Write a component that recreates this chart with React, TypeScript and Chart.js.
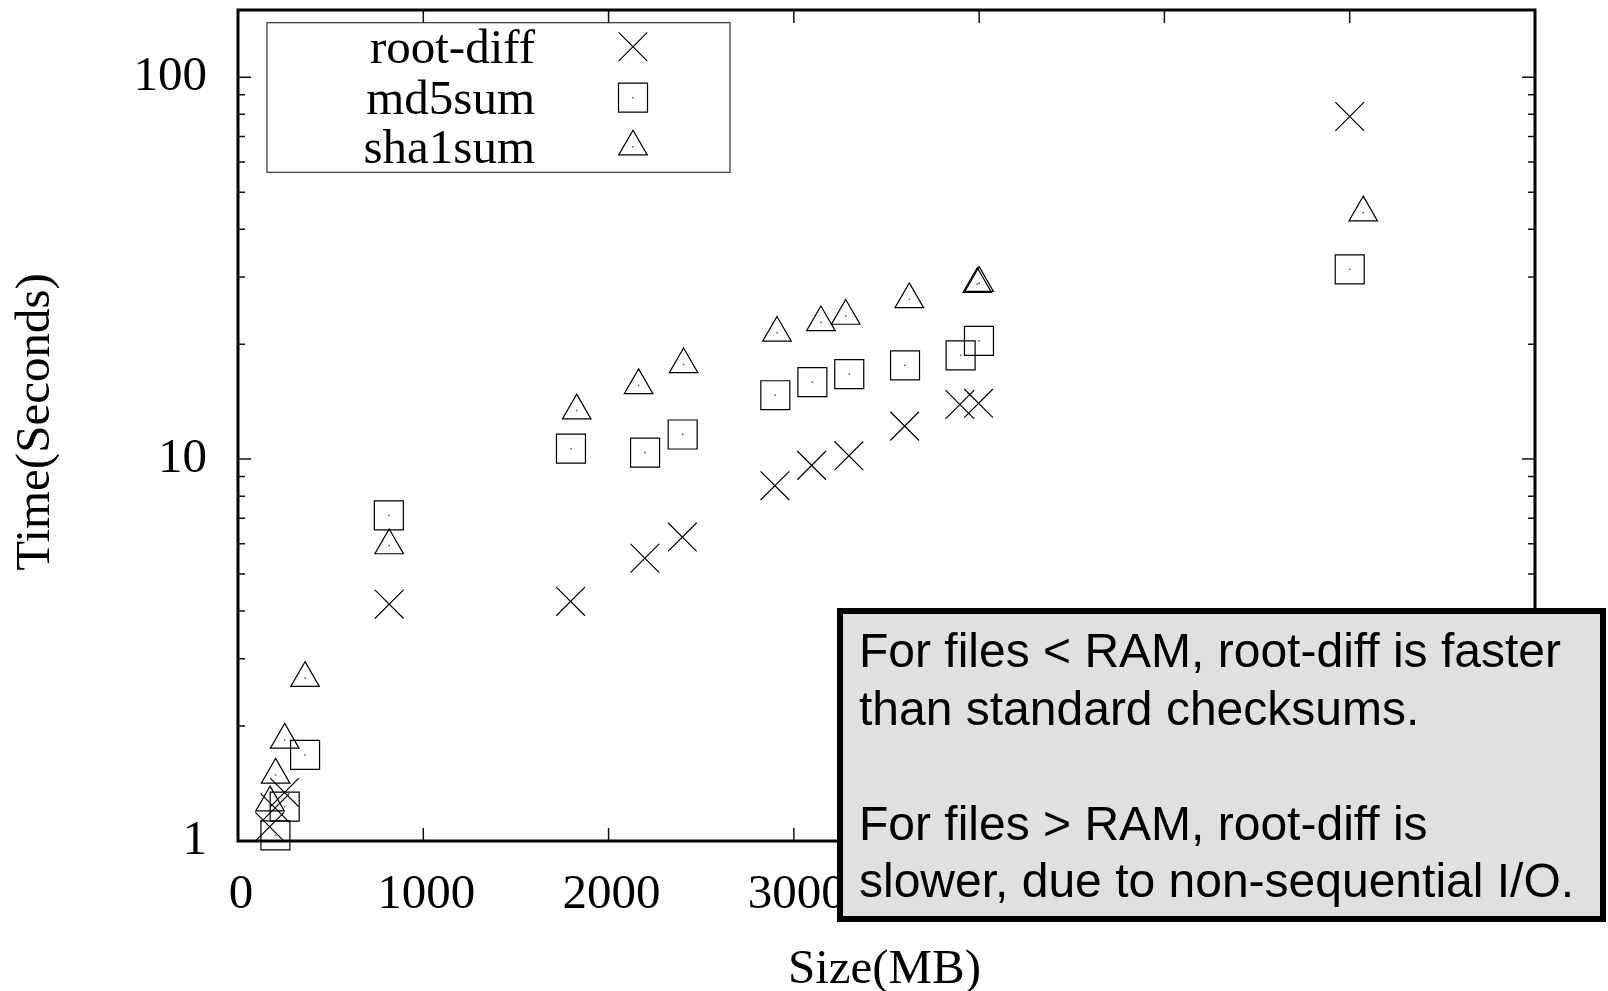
import React, { useEffect, useRef } from 'react';
import { Chart, registerables } from 'chart.js';

Chart.register(...registerables);

// ---- data ----
const rootDiffSize = [171, 200, 251, 816, 1795, 2196, 2398, 2898, 3096, 3297, 3598, 3896, 3997, 6000];
const rootDiffTime = [1.09, 1.22, 1.34, 4.17, 4.24, 5.5, 6.25, 8.52, 9.63, 10.2, 12.2, 13.9, 14.0, 78.9];

const md5Size = [202, 252, 362, 814, 1797, 2197, 2400, 2900, 3100, 3299, 3600, 3900, 3999, 6000];
const md5Time = [1.035, 1.23, 1.68, 7.12, 10.65, 10.4, 11.6, 14.7, 15.9, 16.7, 17.6, 18.7, 20.4, 31.4];

const sha1Size = [173, 203, 252, 362, 816, 1828, 2162, 2405, 2909, 3146, 3280, 3623, 3990, 4000, 6073];
const sha1Time = [1.26, 1.49, 1.84, 2.67, 5.94, 13.4, 15.6, 17.7, 21.4, 22.8, 23.7, 26.2, 28.7, 28.9, 44.2];

const seriesNames = ['root-diff', 'md5sum', 'sha1sum'];
const seriesStyles = ['crossRot', 'rect', 'triangle'];
const xTickValues = [0, 1000, 2000, 3000, 4000, 5000, 6000, 7000];
const yTickValues = [1, 10, 100];
const xTitle = 'Size(MB)';
const yTitle = 'Time(Seconds)';
const annotationLines = [
  'For files < RAM, root-diff is faster',
  'than standard checksums.',
  '',
  'For files > RAM, root-diff is',
  'slower, due to non-sequential I/O.',
];

const SERIF = '"Liberation Serif", "Times New Roman", serif';
const SANS = '"Liberation Sans", Arial, Helvetica, sans-serif';
const RADII: Record<string, number> = { crossRot: 20.3, rect: 20.5, triangle: 16.5 };

function toPoints(xs: number[], ys: number[]) {
  return xs.map((x, i) => ({ x, y: ys[i] }));
}

function zeroPadding(s: any) {
  s.paddingTop = 0;
  s.paddingBottom = 0;
  s.paddingLeft = 0;
  s.paddingRight = 0;
}

function drawMarker(ctx: CanvasRenderingContext2D, kind: string, x: number, y: number) {
  const r = RADII[kind];
  ctx.beginPath();
  if (kind === 'crossRot') {
    const d = r * Math.SQRT1_2;
    ctx.moveTo(x - d, y - d);
    ctx.lineTo(x + d, y + d);
    ctx.moveTo(x + d, y - d);
    ctx.lineTo(x - d, y + d);
  } else if (kind === 'rect') {
    const s = r * Math.SQRT1_2;
    ctx.rect(x - s, y - s, 2 * s, 2 * s);
  } else {
    const a = (2 * Math.PI) / 3;
    ctx.moveTo(x, y - r);
    ctx.lineTo(x + Math.sin(a) * r, y - Math.cos(a) * r);
    ctx.lineTo(x + Math.sin(2 * a) * r, y - Math.cos(2 * a) * r);
    ctx.closePath();
  }
  ctx.stroke();
  if (kind !== 'crossRot') {
    ctx.fillStyle = '#555';
    ctx.fillRect(x - 0.75, y - 0.75, 1.5, 1.5);
  }
}

const framePlugin = {
  id: 'gnuplotFrame',
  beforeDatasetsDraw(chart: any) {
    const { ctx, chartArea: a, scales } = chart;
    const xs = scales.x;
    const ys = scales.y;
    ctx.save();
    ctx.strokeStyle = '#111';
    ctx.lineWidth = 1.5;
    ctx.beginPath();
    for (const v of xTickValues) {
      const px = xs.getPixelForValue(v);
      ctx.moveTo(px, a.bottom);
      ctx.lineTo(px, a.bottom - 13);
      ctx.moveTo(px, a.top);
      ctx.lineTo(px, a.top + 13);
    }
    for (const dec of yTickValues) {
      for (let m = 1; m <= 9; m++) {
        const v = m * dec;
        if (v > ys.max) break;
        const len = m === 1 ? 13 : 7;
        const py = ys.getPixelForValue(v);
        ctx.moveTo(a.left, py);
        ctx.lineTo(a.left + len, py);
        ctx.moveTo(a.right, py);
        ctx.lineTo(a.right - len, py);
      }
    }
    ctx.stroke();
    ctx.lineWidth = 3;
    ctx.strokeStyle = '#000';
    ctx.strokeRect(a.left, a.top, a.right - a.left, a.bottom - a.top);
    ctx.restore();
  },
  afterDatasetsDraw(chart: any) {
    const { ctx } = chart;
    ctx.save();
    ctx.fillStyle = '#555';
    chart.data.datasets.forEach((ds: any, i: number) => {
      if (ds.pointStyle === 'crossRot') return;
      chart.getDatasetMeta(i).data.forEach((pt: any) => {
        ctx.fillRect(pt.x - 0.75, pt.y - 0.75, 1.5, 1.5);
      });
    });
    ctx.restore();
  },
  afterDraw(chart: any) {
    const { ctx, chartArea: a } = chart;
    ctx.save();
    // axis titles
    ctx.fillStyle = '#000';
    ctx.font = `49px ${SERIF}`;
    ctx.textAlign = 'center';
    ctx.textBaseline = 'alphabetic';
    ctx.fillText(xTitle, (a.left + a.right) / 2 - 2, 983);
    ctx.save();
    ctx.translate(49, 422);
    ctx.rotate(-Math.PI / 2);
    ctx.fillText(yTitle, 0, 0);
    ctx.restore();

    // legend
    const lx = a.left + 29;
    const ly = a.top + 12.7;
    ctx.strokeStyle = '#333';
    ctx.lineWidth = 1.2;
    ctx.strokeRect(lx, ly, 463, 149.6);
    const rowY = [ly + 24, ly + 75, ly + 124];
    ctx.textAlign = 'right';
    seriesNames.forEach((name, i) => {
      ctx.fillStyle = '#000';
      ctx.fillText(name, lx + 268, rowY[i] + 16);
      ctx.strokeStyle = '#000';
      ctx.lineWidth = 1.2;
      drawMarker(ctx, seriesStyles[i], lx + 366, rowY[i]);
    });

    // annotation callout
    const bx = 840, by = 611, bw = 763, bh = 308;
    ctx.fillStyle = '#e0e0e0';
    ctx.fillRect(bx, by, bw, bh);
    ctx.strokeStyle = '#000';
    ctx.lineWidth = 6;
    ctx.strokeRect(bx, by, bw, bh);
    ctx.fillStyle = '#000';
    ctx.font = `48px ${SANS}`;
    ctx.textAlign = 'left';
    annotationLines.forEach((line, i) => {
      if (line) ctx.fillText(line, 859, 667 + i * 57.5);
    });
    ctx.restore();
  },
};

export default function App() {
  const canvasRef = useRef<HTMLCanvasElement | null>(null);

  useEffect(() => {
    if (!canvasRef.current) return;
    const mk = (i: number, xs: number[], ys: number[]) => ({
      label: seriesNames[i],
      data: toPoints(xs, ys),
      pointStyle: seriesStyles[i],
      pointRadius: RADII[seriesStyles[i]],
      pointBorderWidth: 1.2,
      borderColor: '#000',
      pointBorderColor: '#000',
      backgroundColor: 'rgba(0,0,0,0)',
      pointBackgroundColor: 'rgba(0,0,0,0)',
      showLine: false,
      clip: false as any,
    });
    const chart = new Chart(canvasRef.current, {
      type: 'scatter',
      data: {
        datasets: [
          mk(0, rootDiffSize, rootDiffTime),
          mk(1, md5Size, md5Time),
          mk(2, sha1Size, sha1Time),
        ] as any,
      },
      options: {
        responsive: false,
        animation: false,
        devicePixelRatio: 1,
        events: [],
        layout: { autoPadding: false, padding: { top: 10, right: 73, left: 0, bottom: 0 } },
        plugins: { legend: { display: false }, tooltip: { enabled: false } },
        scales: {
          x: {
            type: 'linear',
            min: 0,
            max: 7000,
            grid: { display: false, drawTicks: false },
            border: { display: false },
            ticks: {
              color: '#000',
              font: { family: SERIF, size: 49 },
              padding: 25,
              labelOffset: 3,
              maxRotation: 0,
              autoSkip: false,
              callback: (v: any) => String(v),
            },
            afterBuildTicks: (s: any) => {
              s.ticks = xTickValues.map((v) => ({ value: v }));
            },
            afterFit: (s: any) => {
              s.height = 150;
              zeroPadding(s);
            },
          },
          y: {
            type: 'logarithmic',
            min: 1,
            max: 150,
            grid: { display: false, drawTicks: false },
            border: { display: false },
            ticks: {
              color: '#000',
              font: { family: SERIF, size: 49 },
              padding: 31,
              autoSkip: false,
              callback: (v: any) => String(v),
            },
            afterBuildTicks: (s: any) => {
              s.ticks = yTickValues.map((v) => ({ value: v }));
            },
            afterFit: (s: any) => {
              s.width = 238;
              zeroPadding(s);
            },
          },
        },
      } as any,
      plugins: [framePlugin],
    });
    return () => chart.destroy();
  }, []);

  return (
    <div style={{ position: 'fixed', left: 0, top: 0, width: 1608, height: 991, background: '#fff' }}>
      <canvas ref={canvasRef} width={1608} height={991} style={{ display: 'block', width: 1608, height: 991 }} />
    </div>
  );
}
